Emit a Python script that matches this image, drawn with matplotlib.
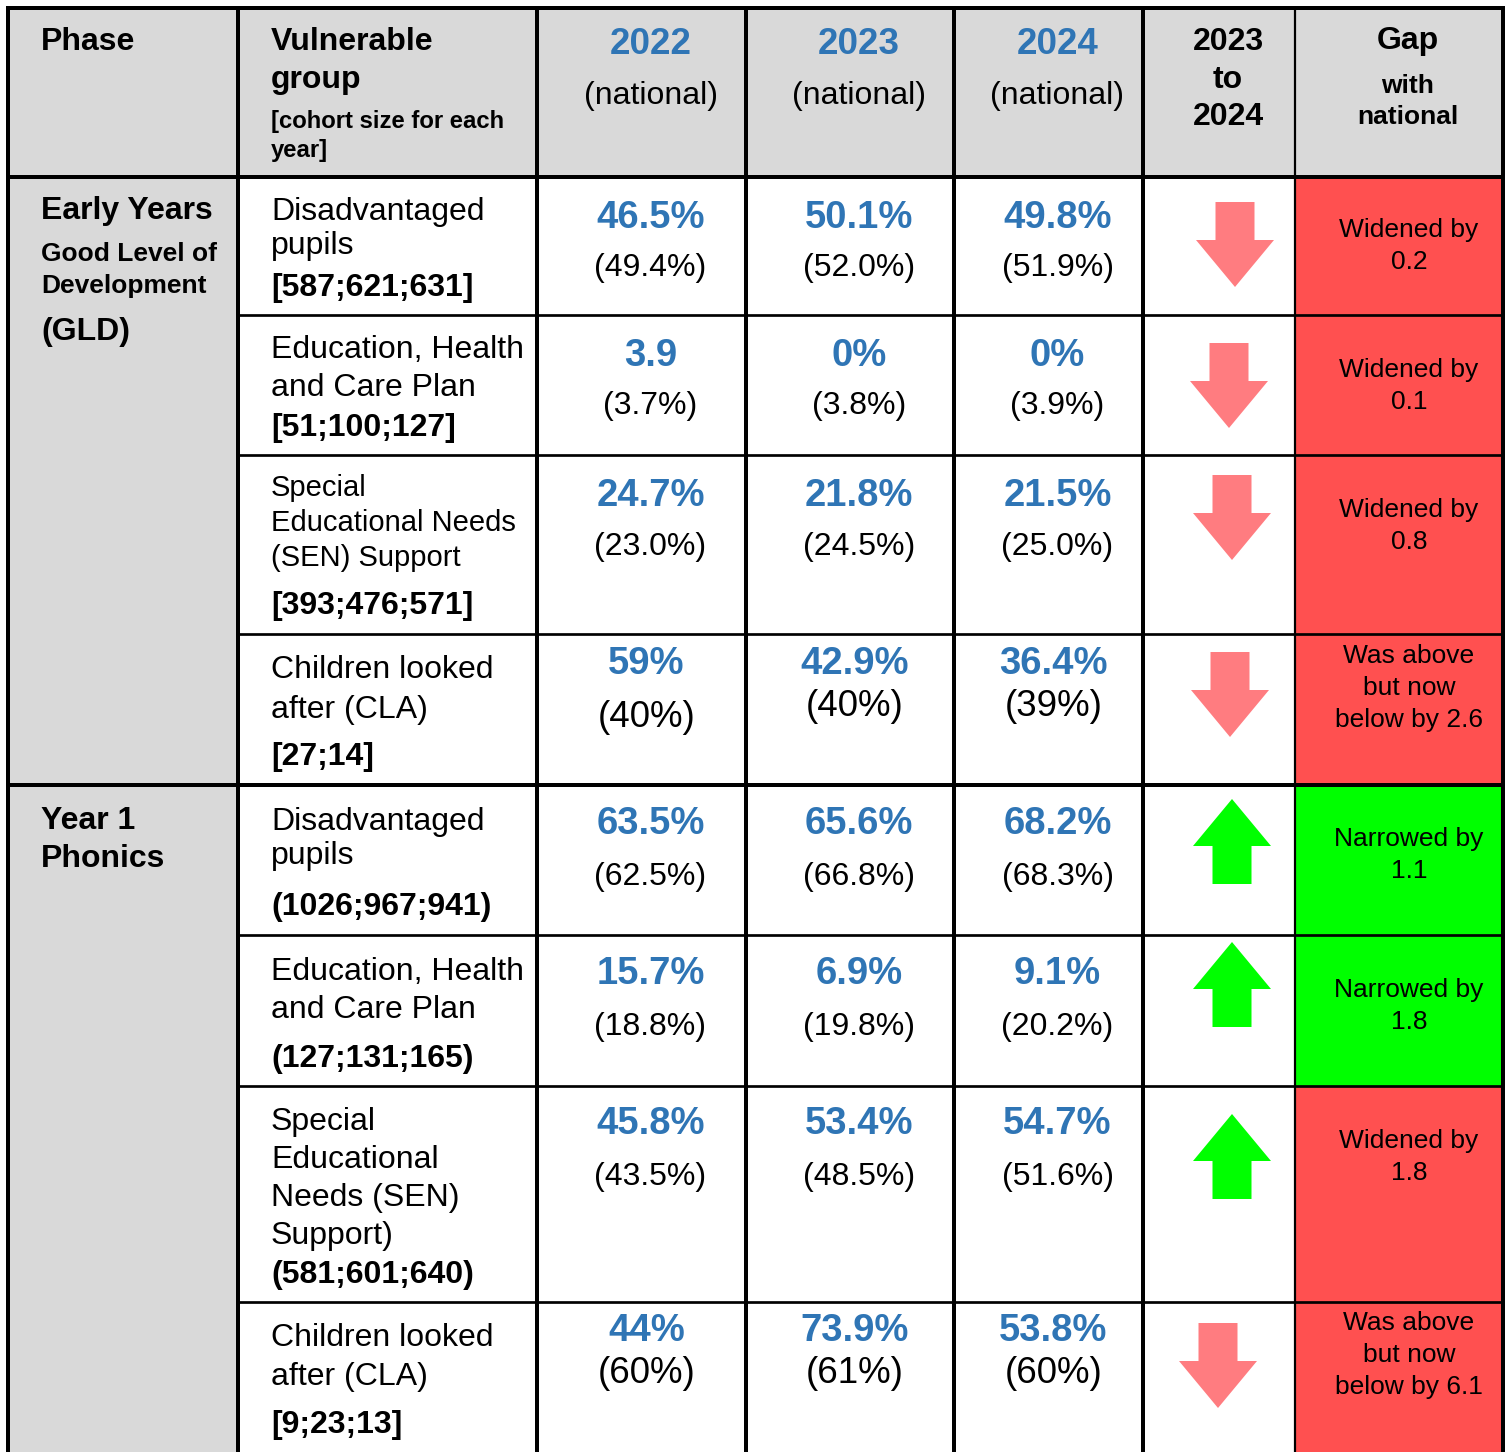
import matplotlib
matplotlib.use("Agg")
import matplotlib.pyplot as plt
from matplotlib.patches import Rectangle, FancyArrow

plt.rcParams["font.family"] = ["Liberation Sans", "DejaVu Sans"]

# Table content
header_years = ["2022", "2023", "2024"]
phase_lines = [
    [("Early Years", 23), ("Good Level of", 19), ("Development", 19), ("(GLD)", 23)],
    [("Year 1", 23), ("Phonics", 23)],
]
group_lines = [
    ["Disadvantaged", "pupils"],
    ["Education, Health", "and Care Plan"],
    ["Special", "Educational Needs", "(SEN) Support"],
    ["Children looked", "after (CLA)"],
    ["Disadvantaged", "pupils"],
    ["Education, Health", "and Care Plan"],
    ["Special", "Educational", "Needs (SEN)", "Support)"],
    ["Children looked", "after (CLA)"],
]
cohorts = ["[587;621;631]", "[51;100;127]", "[393;476;571]", "[27;14]",
           "(1026;967;941)", "(127;131;165)", "(581;601;640)", "[9;23;13]"]
local_2022 = ["46.5%", "3.9", "24.7%", "59%", "63.5%", "15.7%", "45.8%", "44%"]
local_2023 = ["50.1%", "0%", "21.8%", "42.9%", "65.6%", "6.9%", "53.4%", "73.9%"]
local_2024 = ["49.8%", "0%", "21.5%", "36.4%", "68.2%", "9.1%", "54.7%", "53.8%"]
national_2022 = ["(49.4%)", "(3.7%)", "(23.0%)", "(40%)", "(62.5%)", "(18.8%)", "(43.5%)", "(60%)"]
national_2023 = ["(52.0%)", "(3.8%)", "(24.5%)", "(40%)", "(66.8%)", "(19.8%)", "(48.5%)", "(61%)"]
national_2024 = ["(51.9%)", "(3.9%)", "(25.0%)", "(39%)", "(68.3%)", "(20.2%)", "(51.6%)", "(60%)"]
trend = ["down", "down", "down", "down", "up", "up", "up", "down"]
gap_text = [
    ["Widened by", "0.2"], ["Widened by", "0.1"], ["Widened by", "0.8"],
    ["Was above", "but now", "below by 2.6"],
    ["Narrowed by", "1.1"], ["Narrowed by", "1.8"], ["Widened by", "1.8"],
    ["Was above", "but now", "below by 6.1"],
]
gap_status = ["widened", "widened", "widened", "widened",
              "narrowed", "narrowed", "widened", "widened"]

# Layout (pixels)
W, H = 1510, 1452
col_edges = [8, 238, 537, 746, 954, 1143, 1295, 1503]
row_edges = [8, 177, 315, 455, 634, 785, 935, 1086, 1302, 1470]
section_rows = [0, 4]  # first body row of each phase
label_first = [43, 43, 41, 44, 45, 45, 44, 44]
label_pitch = [34, 38, 35, 40, 34, 38, 38, 39]
label_size = [23, 23, 21, 23, 23, 23, 23, 23]
cohort_off = [119, 121, 159, 131, 130, 132, 197, 131]
value_off = [51, 51, 51, 40, 49, 49, 48, 39]
nat_off = [[99, 99, 99], [99, 99, 99], [100, 100, 100], [93, 82, 82],
           [100, 100, 100], [100, 100, 100], [99, 99, 99], [81, 81, 81]]
nat_size = [23, 23, 23, 26.5, 23, 23, 23, 26.5]
value_dx = [9, 9, 9, 5, 9, 9, 9, 5]
gap_first = [60, 62, 62, 29, 61, 62, 62, 28]
arrow_cx = [1235, 1229, 1232, 1230, 1232, 1232, 1232, 1218]
arrow_top = [202, 343, 475, 652, 799, 942, 1114, 1323]
ARROW_H, ARROW_HEAD_W, ARROW_SHAFT_W, ARROW_HEAD_L = 85, 78, 39, 47

GREY = "#d9d9d9"
BLUE = "#2f75b5"
GAP_COLORS = {"widened": "#ff5050", "narrowed": "#00ff00"}
ARROW_COLORS = {"down": "#ff7c80", "up": "#00ff00"}
PX = 0.72  # points per pixel at dpi 100

fig = plt.figure(figsize=(W / 100, H / 100), dpi=100)
ax = fig.add_axes([0, 0, 1, 1])
ax.set_xlim(0, W)
ax.set_ylim(H, 0)
ax.axis("off")

n_rows = len(group_lines)
x0, x1 = col_edges[0], col_edges[-1]
y_head = row_edges[1]

# Fills
ax.add_patch(Rectangle((x0, row_edges[0]), x1 - x0, y_head - row_edges[0], color=GREY, lw=0))
ax.add_patch(Rectangle((x0, y_head), col_edges[1] - x0, row_edges[-1] - y_head, color=GREY, lw=0))
for i in range(n_rows):
    top, bot = row_edges[i + 1], row_edges[i + 2]
    ax.add_patch(Rectangle((col_edges[6], top), col_edges[7] - col_edges[6], bot - top,
                           color=GAP_COLORS[gap_status[i]], lw=0))

# Grid lines
for j, x in enumerate(col_edges):
    lw = 2.2 if j == 6 else 4
    ax.plot([x, x], [row_edges[0], row_edges[-1]], color="black", lw=lw * PX, solid_capstyle="butt")
ax.plot([x0, x1], [row_edges[0], row_edges[0]], color="black", lw=4 * PX)
ax.plot([x0, x1], [y_head, y_head], color="black", lw=4 * PX)
for i in range(1, n_rows):
    y = row_edges[i + 1]
    if i in section_rows:
        ax.plot([x0, x1], [y, y], color="black", lw=4 * PX)
    else:
        ax.plot([col_edges[1], x1], [y, y], color="black", lw=2.7 * PX)

# Header
ax.text(41, 50, "Phase", fontsize=23, fontweight="bold", va="baseline")
ax.text(271, 50, "Vulnerable", fontsize=23, fontweight="bold", va="baseline")
ax.text(271, 88, "group", fontsize=23, fontweight="bold", va="baseline")
ax.text(271, 128, "[cohort size for each", fontsize=17.2, fontweight="bold", va="baseline")
ax.text(271, 157, "year]", fontsize=17.2, fontweight="bold", va="baseline")
for k, yr in enumerate(header_years):
    cx = (col_edges[2 + k] + col_edges[3 + k]) / 2 + 9
    ax.text(cx, 54, yr, fontsize=26.5, fontweight="bold", color=BLUE, ha="center", va="baseline")
    ax.text(cx, 104, "(national)", fontsize=23, ha="center", va="baseline")
cx = (col_edges[5] + col_edges[6]) / 2 + 9
for y, s in zip([50, 88, 125], ["2023", "to", "2024"]):
    ax.text(cx, y, s, fontsize=23, fontweight="bold", ha="center", va="baseline")
cx = (col_edges[6] + col_edges[7]) / 2 + 9
ax.text(cx, 49, "Gap", fontsize=23, fontweight="bold", ha="center", va="baseline")
ax.text(cx, 93, "with", fontsize=19, fontweight="bold", ha="center", va="baseline")
ax.text(cx, 124, "national", fontsize=19, fontweight="bold", ha="center", va="baseline")

# Phase labels
phase_baselines = [[219, 261, 293, 340], [829, 867]]
for lines, ys in zip(phase_lines, phase_baselines):
    for (s, fs), y in zip(lines, ys):
        ax.text(41, y, s, fontsize=fs, fontweight="bold", va="baseline")

# Body rows
local_vals = [local_2022, local_2023, local_2024]
nat_vals = [national_2022, national_2023, national_2024]
for i in range(n_rows):
    top = row_edges[i + 1]
    for k, s in enumerate(group_lines[i]):
        ax.text(271, top + label_first[i] + k * label_pitch[i], s,
                fontsize=label_size[i], va="baseline")
    ax.text(271, top + cohort_off[i], cohorts[i], fontsize=23, fontweight="bold", va="baseline")

    for k in range(3):
        cx = (col_edges[2 + k] + col_edges[3 + k]) / 2 + value_dx[i]
        ax.text(cx, top + value_off[i], local_vals[k][i], fontsize=27.5, fontweight="bold",
                color=BLUE, ha="center", va="baseline")
        ax.text(cx, top + nat_off[i][k], nat_vals[k][i], fontsize=nat_size[i],
                ha="center", va="baseline")

    # trend arrow
    if trend[i] == "down":
        ax.add_patch(FancyArrow(arrow_cx[i], arrow_top[i], 0, ARROW_H, width=ARROW_SHAFT_W,
                                head_width=ARROW_HEAD_W, head_length=ARROW_HEAD_L,
                                length_includes_head=True, color=ARROW_COLORS["down"], lw=0))
    else:
        ax.add_patch(FancyArrow(arrow_cx[i], arrow_top[i] + ARROW_H, 0, -ARROW_H, width=ARROW_SHAFT_W,
                                head_width=ARROW_HEAD_W, head_length=ARROW_HEAD_L,
                                length_includes_head=True, color=ARROW_COLORS["up"], lw=0))

    cx = (col_edges[6] + col_edges[7]) / 2 + 10
    for k, s in enumerate(gap_text[i]):
        ax.text(cx, top + gap_first[i] + k * 32, s, fontsize=19, ha="center", va="baseline")

fig.savefig("out.png", dpi=100, facecolor="white")
